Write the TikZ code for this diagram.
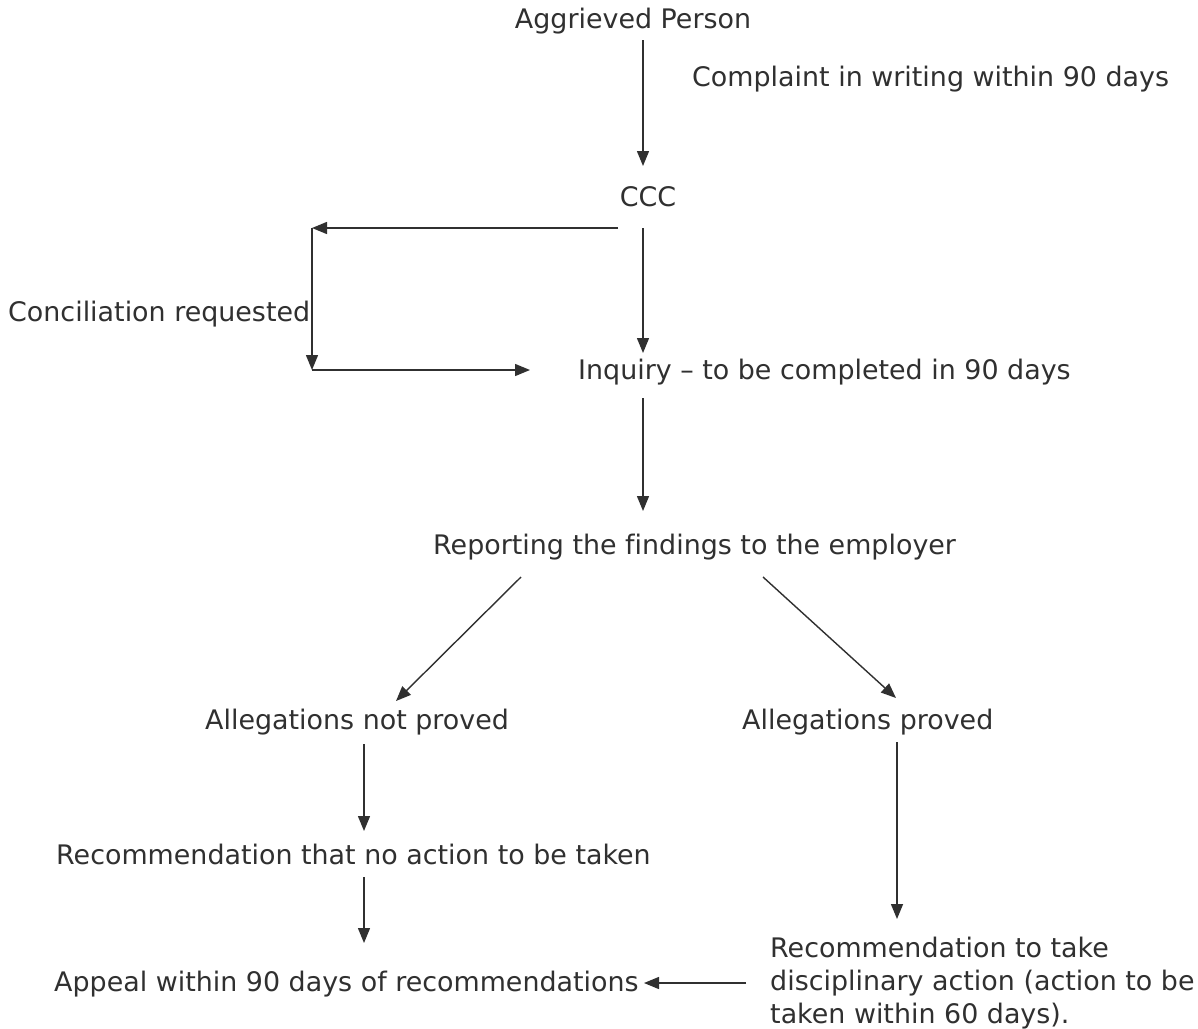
\documentclass[tikz,border=0pt]{standalone}
\usepackage{fontspec}
\setmainfont{DejaVu Sans}[Ligatures=NoCommon]
\usetikzlibrary{arrows.meta}
\definecolor{ink}{HTML}{303030}
\tikzset{
  lbl/.style={inner sep=0pt, text=ink, font=\fontsize{26.9}{33}\selectfont},
  arr/.style={draw=ink, line width=1.4pt, -{Triangle[length=15pt,width=12pt]}},
  ln/.style={draw=ink, line width=1.4pt}
}
\begin{document}
\begin{tikzpicture}[x=1pt,y=-1pt]
\path[use as bounding box, fill=white] (0,0) rectangle (1198,1028);
% text nodes
\node[lbl] (ap) at (633,21) {Aggrieved Person};
\node[lbl, anchor=west] (cw) at (692,79) {Complaint in writing within 90 days};
\node[lbl] (ccc) at (648,197) {CCC};
\node[lbl, anchor=west] (cr) at (8,314) {Conciliation requested};
\node[lbl, anchor=west] (inq) at (578,372) {Inquiry – to be completed in 90 days};
\node[lbl, anchor=west] (rep) at (433,547) {Reporting the findings to the employer};
\node[lbl, anchor=west] (anp) at (205,722) {Allegations not proved};
\node[lbl, anchor=west] (apr) at (742,722) {Allegations proved};
\node[lbl, anchor=west] (rna) at (56,854) {Recommendation that no action to be taken};
\node[lbl, anchor=west] (apl) at (54,984) {Appeal within 90 days of recommendations};
\node[lbl, anchor=north west, align=left] (rtd) at (770,937) {Recommendation to take\\disciplinary action (action to be\\taken within 60 days).};
% coordinates
\coordinate (a1s) at (643,40);
\coordinate (a1e) at (643,166);
\coordinate (c1) at (618,228);
\coordinate (c2) at (312,228);
\coordinate (c3) at (312,370);
\coordinate (c4) at (530,370);
\coordinate (d1s) at (643,228);
\coordinate (d1e) at (643,353);
\coordinate (d2s) at (643,398);
\coordinate (d2e) at (643,511);
\coordinate (l1s) at (521,577);
\coordinate (l1e) at (396,701);
\coordinate (r1s) at (763,577);
\coordinate (r1e) at (896,698);
\coordinate (l2s) at (364,744);
\coordinate (l2e) at (364,831);
\coordinate (l3s) at (364,877);
\coordinate (l3e) at (364,943);
\coordinate (r2s) at (897,742);
\coordinate (r2e) at (897,919);
\coordinate (b1s) at (746,983);
\coordinate (b1e) at (644,983);
% connectors
\draw[arr] (a1s) -- (a1e);
\draw[arr] (c1) -- (c2);
\draw[arr] (c2) -- (c3);
\draw[arr] (c3) -- (c4);
\draw[arr] (d1s) -- (d1e);
\draw[arr] (d2s) -- (d2e);
\draw[arr] (l1s) -- (l1e);
\draw[arr] (r1s) -- (r1e);
\draw[arr] (l2s) -- (l2e);
\draw[arr] (l3s) -- (l3e);
\draw[arr] (r2s) -- (r2e);
\draw[arr] (b1s) -- (b1e);
\end{tikzpicture}
\end{document}
